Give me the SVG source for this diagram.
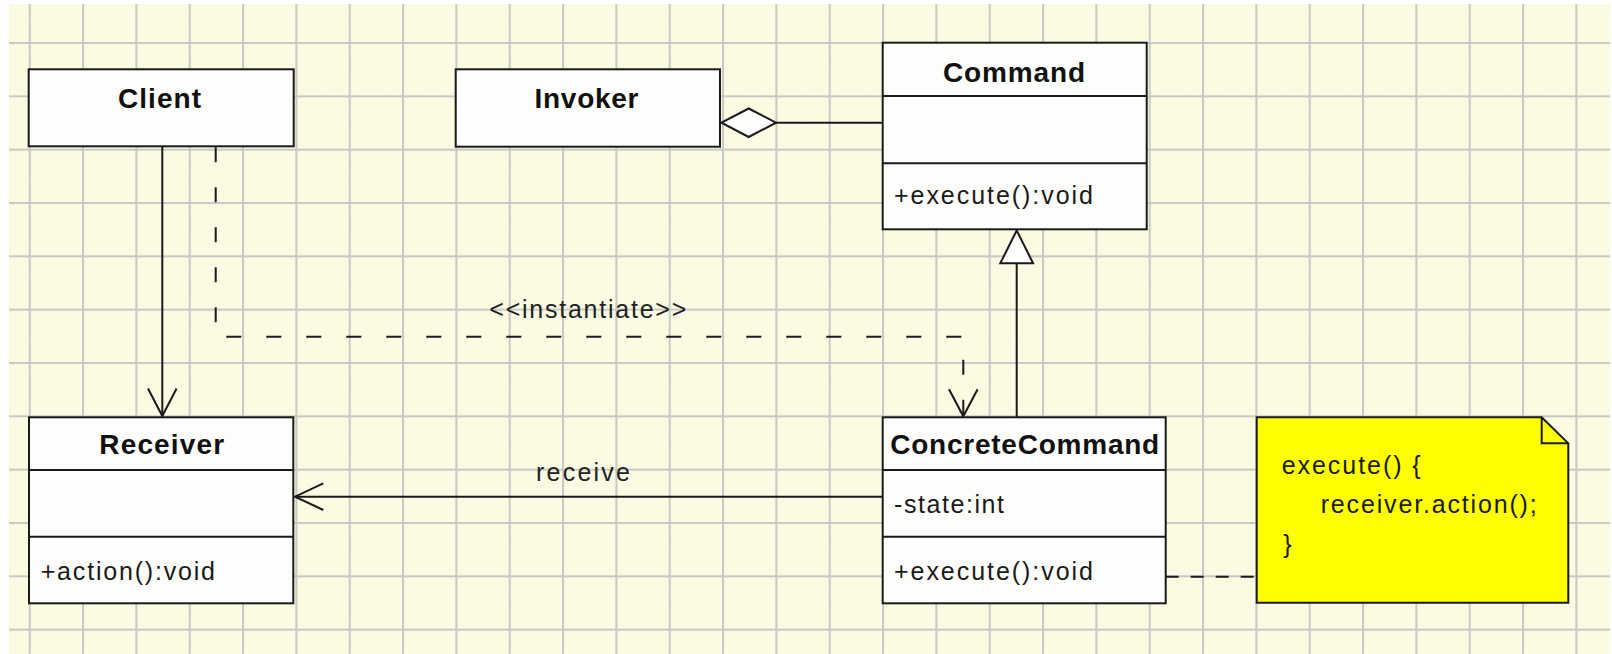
<svg xmlns="http://www.w3.org/2000/svg" width="1612" height="654" viewBox="0 0 1612 654">
  <style>
    .box { fill: #fdfdfb; stroke: #1a1a1a; stroke-width: 2; }
    .div { stroke: #1a1a1a; stroke-width: 2; }
    .title { font-family: "Liberation Sans", Arial, sans-serif; font-size: 28px; font-weight: bold; fill: #111; text-anchor: middle; }
    .member { font-family: "Liberation Sans", Arial, sans-serif; font-size: 25px; fill: #1a1a1a; }
    .label { font-family: "Liberation Sans", Arial, sans-serif; font-size: 25px; fill: #222; }
    .edge { fill: none; stroke: #1a1a1a; stroke-width: 2; }
    .dash { fill: none; stroke: #1a1a1a; stroke-width: 2; stroke-dasharray: 15 25; }
    .head { fill: none; stroke: #1a1a1a; stroke-width: 2; stroke-linejoin: miter; }
    .hollow { fill: #fdfdfb; stroke: #1a1a1a; stroke-width: 2; }
    .note { fill: #ffff00; stroke: #1a1a1a; stroke-width: 2; }
  </style>
  <defs>
    <pattern id="dots" patternUnits="userSpaceOnUse" x="29.7" y="43" width="10.667" height="10.667">
      <circle cx="5.3" cy="5.3" r="0.7" fill="#f0f0d6"/>
    </pattern>
    <pattern id="grid" patternUnits="userSpaceOnUse" x="28.7" y="42" width="53.333" height="53.333">
      <rect width="53.333" height="53.333" fill="#fbfbe3"/>
      <rect width="53.333" height="53.333" fill="url(#dots)"/>
      <rect x="0" y="0" width="2" height="53.333" fill="#c9c9c4"/>
      <rect x="0" y="0" width="53.333" height="2" fill="#c9c9c4"/>
    </pattern>
  </defs>

  <!-- paper -->
  <rect width="1612" height="654" fill="#ffffff"/>
  <rect x="9" y="4" width="1601" height="650" fill="url(#grid)"/>

  <!-- connectors -->
  <g id="connectors">
    <!-- Client uses Receiver -->
    <line class="edge" x1="162.3" y1="146.5" x2="162.3" y2="416"/>
    <polyline class="head" points="148,388.5 162.3,416 176.6,388.5"/>

    <!-- Invoker aggregates Command -->
    <line class="edge" x1="776" y1="122.7" x2="882.7" y2="122.7"/>
    <polygon class="hollow" points="721.5,122.7 748.7,108.5 776,122.7 748.7,137"/>

    <!-- ConcreteCommand generalizes Command -->
    <line class="edge" x1="1016.7" y1="263.3" x2="1016.7" y2="417.3"/>
    <polygon class="hollow" points="1016.7,230.5 1000.3,263.3 1033.1,263.3"/>

    <!-- Client instantiates ConcreteCommand -->
    <path class="dash" d="M215.7,147.3 V336.7 H963.3 V415"/>
    <polyline class="head" points="949,389.3 963.3,416.3 977.6,389.3"/>
    <text class="label" x="489.3" y="318.3" textLength="197">&lt;&lt;instantiate&gt;&gt;</text>

    <!-- ConcreteCommand calls Receiver -->
    <line class="edge" x1="882.7" y1="496.7" x2="295" y2="496.7"/>
    <polyline class="head" points="323.3,483.3 295,496.7 323.3,510"/>
    <text class="label" x="536" y="481" textLength="94">receive</text>

    <!-- note anchor -->
    <line class="edge" x1="1165.7" y1="576.7" x2="1256.7" y2="576.7" stroke-dasharray="13 12"/>
  </g>

  <g id="client">
    <rect class="box" x="28.7" y="69.3" width="265" height="77"/>
    <text class="title" x="159.5" y="108.3" textLength="83">Client</text>
  </g>

  <g id="invoker">
    <rect class="box" x="455.7" y="69.3" width="264.3" height="77.4"/>
    <text class="title" x="586.5" y="108.3" textLength="104">Invoker</text>
  </g>

  <g id="command">
    <rect class="box" x="882.7" y="42.7" width="264" height="186.6"/>
    <line class="div" x1="882.7" y1="96" x2="1146.7" y2="96"/>
    <line class="div" x1="882.7" y1="163.3" x2="1146.7" y2="163.3"/>
    <text class="title" x="1014" y="81.7" textLength="142">Command</text>
    <text class="member" x="894" y="204" textLength="199">+execute():void</text>
  </g>

  <g id="receiver">
    <rect class="box" x="29" y="417.3" width="264.3" height="186"/>
    <line class="div" x1="29" y1="470" x2="293.3" y2="470"/>
    <line class="div" x1="29" y1="536.7" x2="293.3" y2="536.7"/>
    <text class="title" x="161.7" y="454" textLength="124.7">Receiver</text>
    <text class="member" x="40.7" y="580" textLength="174.3">+action():void</text>
  </g>

  <g id="concrete-command">
    <rect class="box" x="882.7" y="417.3" width="283" height="186"/>
    <line class="div" x1="882.7" y1="470" x2="1165.7" y2="470"/>
    <line class="div" x1="882.7" y1="536.7" x2="1165.7" y2="536.7"/>
    <text class="title" x="1024.7" y="454" textLength="269">ConcreteCommand</text>
    <text class="member" x="894" y="513.3" textLength="110">-state:int</text>
    <text class="member" x="894" y="580" textLength="199">+execute():void</text>
  </g>

  <g id="note">
    <polygon class="note" points="1256.7,417.3 1541.7,417.3 1568.3,443.3 1568.3,602.7 1256.7,602.7"/>
    <polyline class="edge" points="1541.7,417.3 1541.7,443.3 1568.3,443.3"/>
    <text class="member" x="1281.7" y="473.8" textLength="139">execute() {</text>
    <text class="member" x="1320.7" y="513.3" textLength="216">receiver.action();</text>
    <text class="member" x="1283.3" y="552.8">}</text>
  </g>
</svg>
